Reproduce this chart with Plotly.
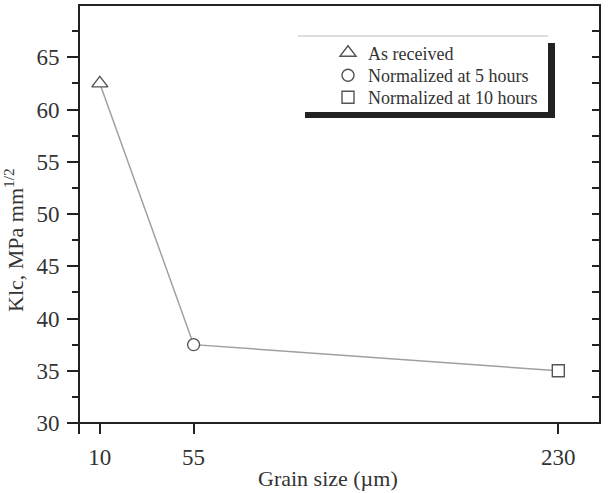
import plotly.graph_objects as go

# ---- data ----
grain_size = [10, 55, 230]
klc = [62.5, 37.5, 35.0]
series_names = ["As received", "Normalized at 5 hours", "Normalized at 10 hours"]
x_tick_vals = [10, 55, 230]
x_tick_text = ["10", "55", "230"]
x_minor_vals = [0]
y_tick_vals = [30, 35, 40, 45, 50, 55, 60, 65]
y_minor_vals = [32.5, 37.5, 42.5, 47.5, 52.5, 57.5, 62.5, 67.5]

# ---- style ----
symbols = ["triangle-up", "circle", "square"]
sizes = [14, 12, 12]
FONT = "Liberation Serif"
AX = "#222222"
TXT = "#333333"
W, H = 611, 493
ML, MR, MT, MB = 79, 11, 5, 70
PW, PH = W - ML - MR, H - MT - MB


def px_x(p):
    return (p - ML) / PW


def px_y(p):
    return (H - MB - p) / PH


legend_rows_px = [53, 75.5, 97.5]

fig = go.Figure()

# connecting line
fig.add_trace(go.Scatter(x=grain_size, y=klc, mode="lines",
                         line=dict(color="#a0a0a0", width=1.5),
                         showlegend=False, hoverinfo="skip"))

legend_keys = ["legend", "legend2", "legend3"]
for i, name in enumerate(series_names):
    fig.add_trace(go.Scatter(
        x=[grain_size[i]], y=[klc[i]], mode="markers", name=name,
        legend=legend_keys[i],
        marker=dict(symbol=symbols[i], size=sizes[i],
                    color="white", line=dict(color="#555555", width=1.4)),
    ))

# invisible trace for right axis
fig.add_trace(go.Scatter(x=[grain_size[0]], y=[klc[0]], yaxis="y2", mode="markers",
                         marker=dict(opacity=0), showlegend=False, hoverinfo="skip"))

# legend box with shadow
fig.add_shape(type="rect", xref="paper", yref="paper",
              x0=px_x(305), x1=px_x(555), y0=px_y(118), y1=px_y(43),
              fillcolor="#222222", line=dict(width=0), layer="below")
fig.add_shape(type="rect", xref="paper", yref="paper",
              x0=px_x(298), x1=px_x(548), y0=px_y(112), y1=px_y(36),
              fillcolor="white", line=dict(width=0), layer="below")
fig.add_shape(type="line", xref="paper", yref="paper",
              x0=px_x(298), x1=px_x(548), y0=px_y(36), y1=px_y(36),
              line=dict(color="#bbbbbb", width=1))

# plot frame
fig.add_shape(type="rect", xref="paper", yref="paper", x0=0, x1=1, y0=0, y1=1,
              line=dict(color=AX, width=2), fillcolor="rgba(0,0,0,0)", layer="above")

# axis titles
fig.add_annotation(text="Klc, MPa mm<sup>1/2</sup>", textangle=-90,
                   xref="paper", yref="paper", x=px_x(14), y=px_y(240),
                   xanchor="center", yanchor="middle", showarrow=False,
                   font=dict(family=FONT, size=22, color=TXT))
fig.add_annotation(text="Grain size (µm)",
                   xref="paper", yref="paper", x=px_x(328), y=px_y(493),
                   xanchor="center", yanchor="bottom", showarrow=False,
                   font=dict(family=FONT, size=22, color=TXT))

leg_common = dict(xanchor="left", yanchor="middle", bgcolor="rgba(0,0,0,0)",
                  borderwidth=0, font=dict(family=FONT, size=18, color=TXT),
                  itemwidth=30)

fig.update_layout(
    width=W, height=H,
    margin=dict(l=ML, r=MR, t=MT, b=MB),
    paper_bgcolor="white", plot_bgcolor="rgba(0,0,0,0)",
    font=dict(family=FONT, color=TXT, size=23),
    showlegend=True,
    legend=dict(x=px_x(328), y=px_y(legend_rows_px[0]), **leg_common),
    legend2=dict(x=px_x(328), y=px_y(legend_rows_px[1]), **leg_common),
    legend3=dict(x=px_x(328), y=px_y(legend_rows_px[2]), **leg_common),
    xaxis=dict(range=[0, 250], tickvals=x_tick_vals, ticktext=x_tick_text,
               showline=False,
               ticks="outside", ticklen=10, tickwidth=2, tickcolor=AX,
               minor=dict(tickvals=x_minor_vals, ticks="outside", ticklen=10,
                          tickwidth=2, tickcolor=AX),
               ticklabelstandoff=3, showgrid=False, zeroline=False),
    yaxis=dict(range=[30, 70], tickvals=y_tick_vals,
               showline=False,
               ticks="outside", ticklen=11, tickwidth=2, tickcolor=AX,
               ticklabelstandoff=3,
               minor=dict(tickvals=y_minor_vals, ticks="outside", ticklen=6,
                          tickwidth=2, tickcolor=AX),
               showgrid=False, zeroline=False),
    yaxis2=dict(range=[30, 70], overlaying="y", side="right", tickvals=y_tick_vals,
                showticklabels=False, showline=False,
                ticks="inside", ticklen=8, tickwidth=2, tickcolor=AX,
                minor=dict(tickvals=y_minor_vals, ticks="inside", ticklen=8,
                           tickwidth=2, tickcolor=AX),
                showgrid=False, zeroline=False),
)

fig.write_html("out.html")
